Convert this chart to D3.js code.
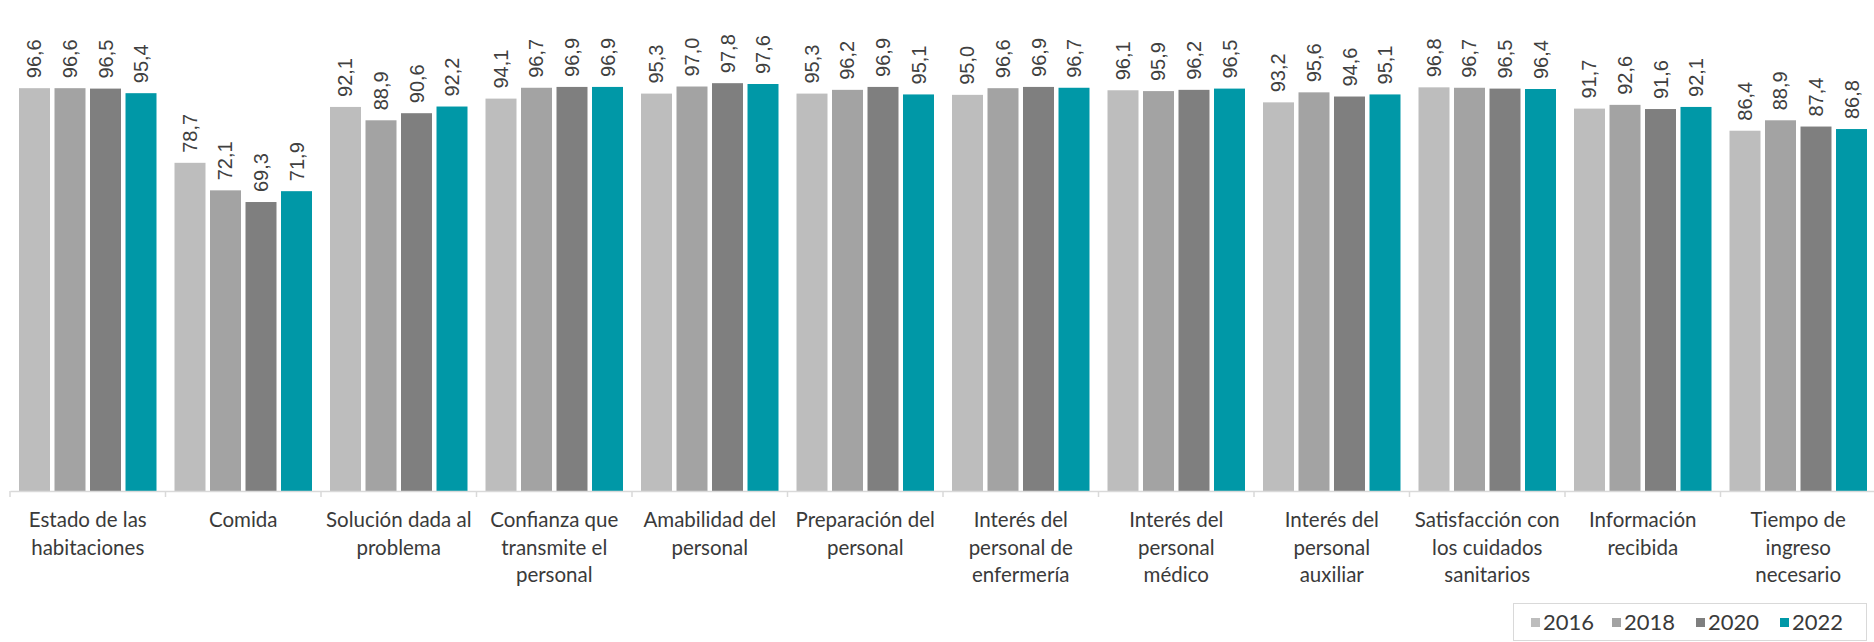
<!DOCTYPE html>
<html>
<head>
<meta charset="utf-8">
<script src="https://cdn.jsdelivr.net/npm/d3@7"></script>
<style>
  html, body { margin: 0; padding: 0; background: #ffffff; }
  svg { display: block; }
</style>
</head>
<body>
<svg id="chart" width="1874" height="642"></svg>
<script>
const categories = [
  "Estado de las|habitaciones",
  "Comida",
  "Solución dada al|problema",
  "Confianza que|transmite el|personal",
  "Amabilidad del|personal",
  "Preparación del|personal",
  "Interés del|personal de|enfermería",
  "Interés del|personal|médico",
  "Interés del|personal|auxiliar",
  "Satisfacción con|los cuidados|sanitarios",
  "Información|recibida",
  "Tiempo de|ingreso|necesario"
];
const years = ["2016", "2018", "2020", "2022"];
const values2016 = [96.6, 78.7, 92.1, 94.1, 95.3, 95.3, 95.0, 96.1, 93.2, 96.8, 91.7, 86.4];
const values2018 = [96.6, 72.1, 88.9, 96.7, 97.0, 96.2, 96.6, 95.9, 95.6, 96.7, 92.6, 88.9];
const values2020 = [96.5, 69.3, 90.6, 96.9, 97.8, 96.9, 96.9, 96.2, 94.6, 96.5, 91.6, 87.4];
const values2022 = [95.4, 71.9, 92.2, 96.9, 97.6, 95.1, 96.7, 96.5, 95.1, 96.4, 92.1, 86.8];
const colors = ["#bdbdbd", "#a3a3a3", "#7f7f7f", "#0098a7"];

const seriesValues = [values2016, values2018, values2020, values2022];
const svg = d3.select("#chart");

const baseY = 491;
const y = d3.scaleLinear().domain([0, 100]).range([baseY, 74]);
const x0 = d3.scaleBand().domain(d3.range(categories.length)).range([10, 1876]).padding(0);
const groupPad = 9;
const x1 = d3.scaleBand().domain(years)
  .range([groupPad, x0.bandwidth() - groupPad])
  .paddingInner(0.127).paddingOuter(0);

const fmt = v => d3.format(".1f")(v).replace(".", ",");

// bars
const groups = svg.append("g").selectAll("g")
  .data(categories.map((c, i) => i))
  .join("g")
  .attr("transform", i => `translate(${x0(i)},0)`);

groups.selectAll("rect")
  .data(i => years.map((yr, k) => ({ yr, k, v: seriesValues[k][i] })))
  .join("rect")
  .attr("x", d => x1(d.yr))
  .attr("y", d => y(d.v))
  .attr("width", x1.bandwidth())
  .attr("height", d => baseY - y(d.v))
  .attr("fill", d => colors[d.k]);

groups.selectAll("text.val")
  .data(i => years.map((yr, k) => ({ yr, k, v: seriesValues[k][i] })))
  .join("text")
  .attr("class", "val")
  .attr("transform", d => `translate(${x1(d.yr) + x1.bandwidth() / 2 + 7},${y(d.v) - 10}) rotate(-90)`)
  .attr("font-family", "'Liberation Sans', Arial, sans-serif")
  .attr("font-size", 20)
  .attr("fill", "#404040")
  .text(d => fmt(d.v));

// axis
const axis = d3.axisBottom(x0).tickSize(0).tickFormat("");
const axG = svg.append("g").attr("transform", `translate(0,${baseY})`).call(axis);
axG.select(".domain").attr("stroke", "#d9d9d9").attr("stroke-width", 1.5);
// category boundary ticks
svg.append("g").selectAll("line")
  .data(d3.range(categories.length + 1))
  .join("line")
  .attr("x1", i => i < categories.length ? x0(i) : x0(categories.length - 1) + x0.bandwidth())
  .attr("x2", i => i < categories.length ? x0(i) : x0(categories.length - 1) + x0.bandwidth())
  .attr("y1", baseY).attr("y2", baseY + 6)
  .attr("stroke", "#d9d9d9").attr("stroke-width", 1.5);

// category labels
const labG = svg.append("g");
categories.forEach((c, i) => {
  const t = labG.append("text")
    .attr("x", x0(i) + x0.bandwidth() / 2)
    .attr("y", 527)
    .attr("text-anchor", "middle")
    .attr("font-family", "Lato, 'Open Sans', sans-serif")
    .attr("font-size", 20.5)
    .attr("fill", "#3a3a3a");
  c.split("|").forEach((line, j) => {
    t.append("tspan")
      .attr("x", x0(i) + x0.bandwidth() / 2)
      .attr("dy", j === 0 ? 0 : 27.7)
      .text(line);
  });
});

// legend
const leg = svg.append("g");
leg.append("rect")
  .attr("x", 1513.5).attr("y", 603.5).attr("width", 353).attr("height", 37)
  .attr("fill", "#ffffff").attr("stroke", "#d9d9d9").attr("stroke-width", 1);
const legX = [1531, 1612, 1696, 1780];
years.forEach((yr, k) => {
  leg.append("rect")
    .attr("x", legX[k]).attr("y", 618).attr("width", 9).attr("height", 9)
    .attr("fill", colors[k]);
  leg.append("text")
    .attr("x", legX[k] + 12).attr("y", 630)
    .attr("font-family", "Lato, 'Open Sans', sans-serif")
    .attr("font-size", 22)
    .attr("fill", "#3a3a3a")
    .text(yr);
});
</script>
</body>
</html>
